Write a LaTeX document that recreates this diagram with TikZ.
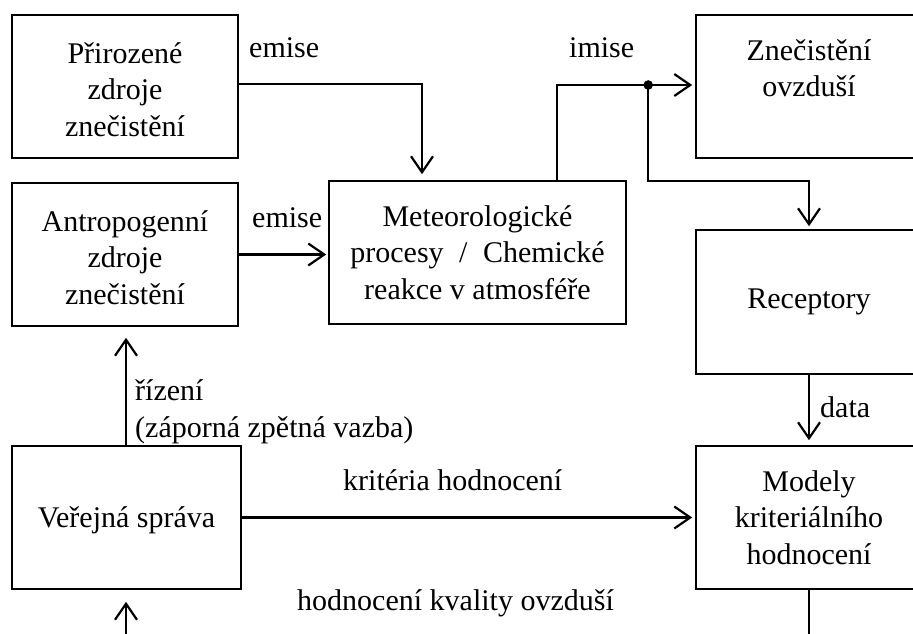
\documentclass[tikz,border=0pt]{standalone}
\usepackage{fontspec}
\setmainfont{Liberation Serif}
\usetikzlibrary{arrows.meta}
\begin{document}
\begin{tikzpicture}[x=1pt,y=-1pt,
  font=\fontsize{30}{36.5}\selectfont,
  box/.style={draw, line width=1.6pt, inner sep=0pt, align=center, minimum height=143pt},
  conn/.style={line width=2.2pt},
  arr/.style={conn, -{Straight Barb[length=16pt,width=22pt,line width=2.2pt]}},
  lbl/.style={anchor=base west, inner sep=0pt}]
\useasboundingbox (0,0) rectangle (913,633);
\clip (0,0) rectangle (913,633);
\fill[white] (0,0) rectangle (913,633);
% boxes
\node[box, minimum width=226pt] (pz) at (125,86.5) {\rule{0pt}{27pt}Přirozené\\zdroje\\znečistění};
\node[box, minimum width=226pt] (az) at (125,254.5) {\rule{0pt}{27pt}Antropogenní\\zdroje\\znečistění};
\node[box, minimum width=297pt] (met) at (477.5,252.5) {Meteorologické\\procesy\hspace{8pt} / \hspace{8pt}Chemické\\reakce v atmosféře};
\node[box, minimum width=226pt] (zo) at (809,86.5) {Znečistění\\ovzduší\\\rule{0pt}{0pt}};
\node[box, minimum width=226pt, minimum height=144pt] (rec) at (809,302) {Receptory};
\node[box, minimum width=226pt] (mod) at (809,517.5) {Modely\\kriteriálního\\hodnocení};
\node[box, minimum width=229pt, text depth=0pt] (vs) at (126.5,517.5) {Veřejná správa};
% connectors
\draw[arr, shorten >=6pt] ([yshift=2.5pt]pz.east) -| ([xshift=-55.5pt]met.north);
\draw[arr, shorten >=2pt] (az.east) -- (az.east -| met.west);
\draw[arr, shorten >=3pt] ([xshift=79.5pt]met.north) |- ([yshift=1.5pt]zo.west);
\coordinate (j) at ([xshift=-47pt,yshift=1.5pt]zo.west);
\fill (j) circle (4.8pt);
\draw[arr, shorten >=3pt] (j) -- ++(0,96) -| (rec.north);
\draw[arr, shorten >=5pt] (rec.south) -- (mod.north);
\draw[arr, shorten >=11pt] ([xshift=-0.5pt]vs.north) -- ([xshift=-0.5pt]vs.north |- az.south);
\draw[arr, shorten >=3pt] (vs.east) -- (vs.east -| mod.west);
\draw[arr, shorten >=12pt] (mod.south) -- ++(0,80) -| ([xshift=-0.5pt]vs.south);
% labels
\node[lbl] (l1) at (249,57) {emise};
\node[lbl] (l2) at (252,227) {emise};
\node[lbl] (l3) at (569,57) {imise};
\node[lbl] (l4) at (820,417) {data};
\node[lbl, align=left] (l5) at (135,437) {řízení\\(záporná zpětná vazba)};
\node[lbl] (l6) at (343,490) {kritéria hodnocení};
\node[lbl] (l7) at (297,610) {hodnocení kvality ovzduší};
\end{tikzpicture}
\end{document}
